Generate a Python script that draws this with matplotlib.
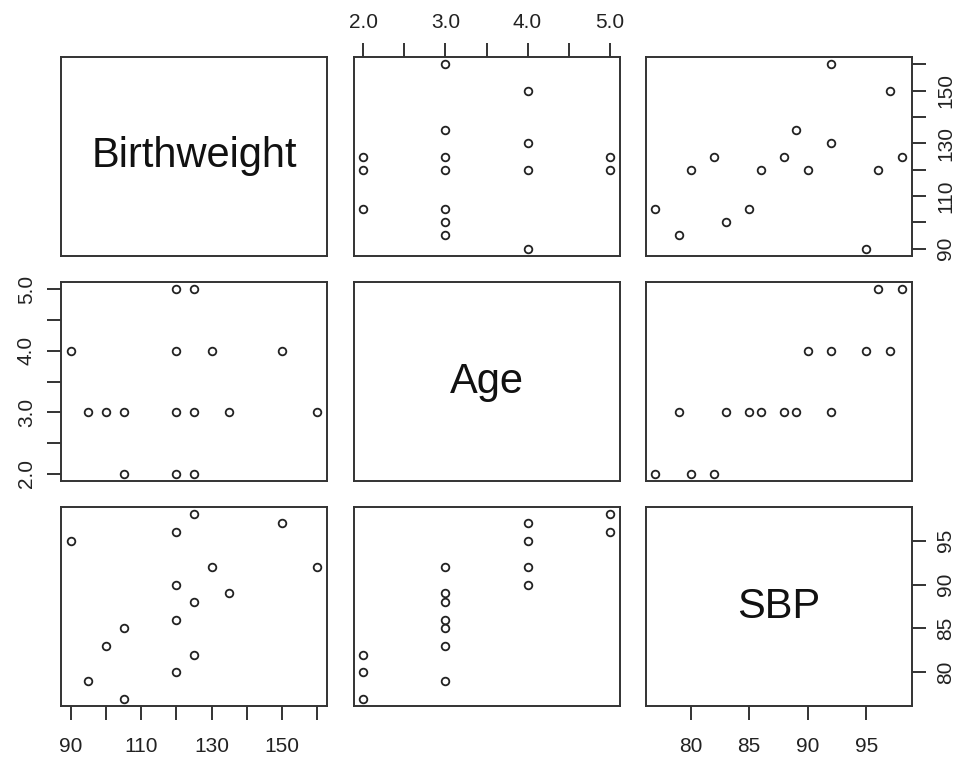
import matplotlib
matplotlib.use("Agg")
import matplotlib.pyplot as plt
import numpy as np

plt.rcParams['font.family'] = ['Liberation Sans', 'DejaVu Sans']

# Variables of the scatterplot matrix
names = ["Birthweight", "Age", "SBP"]
birthweight = [105, 95, 120, 125, 100, 105, 120, 125, 135, 120, 160, 130, 90, 120, 150, 125]
age = [2, 3, 2, 2, 3, 3, 3, 3, 3, 4, 3, 4, 4, 5, 4, 5]
sbp = [77, 79, 80, 82, 83, 85, 86, 88, 89, 90, 92, 92, 95, 96, 97, 98]

# Tick positions and which of them carry a label
bw_ticks = [90, 100, 110, 120, 130, 140, 150, 160]
bw_labels = ["90", "", "110", "", "130", "", "150", ""]
age_ticks = [2.0, 2.5, 3.0, 3.5, 4.0, 4.5, 5.0]
age_labels = ["2.0", "", "3.0", "", "4.0", "", "5.0"]
sbp_ticks = [80, 85, 90, 95]
sbp_labels = ["80", "85", "90", "95"]

data = [birthweight, age, sbp]
ticks = [bw_ticks, age_ticks, sbp_ticks]
labels = [bw_labels, age_labels, sbp_labels]

W, H = 963, 757
fig = plt.figure(figsize=(W / 100, H / 100), dpi=100)

col_left = [61, 353.5, 645.5]
row_top = [57, 282, 507]
pw, ph = 266, 199

frame_col = "#333333"
text_col = "#222222"


def lims(v):
    lo, hi = min(v), max(v)
    r = hi - lo
    return lo - 0.04 * r, hi + 0.04 * r


for i in range(3):          # row -> y variable
    for j in range(3):      # column -> x variable
        ax = fig.add_axes([col_left[j] / W, (H - row_top[i] - ph) / H, pw / W, ph / H])
        for s in ax.spines.values():
            s.set_linewidth(1.4)
            s.set_color(frame_col)
        ax.set_xticks([])
        ax.set_yticks([])
        ax.set_xlim(lims(data[j]))
        ax.set_ylim(lims(data[i]))
        if i == j:
            ax.text(0.5, 0.5, names[i], transform=ax.transAxes, ha="center",
                    va="center", fontsize=30, color="#111111")
        else:
            ax.plot(data[j], data[i], linestyle="none", marker="o", ms=5.5,
                    mfc="none", mec="#222222", mew=1.3)

        tick_kw = dict(length=10, width=1.4, color=frame_col,
                       labelsize=15, labelcolor=text_col)
        # outer axes alternate between sides, as in a classic pairs plot
        if i == 0 and j % 2 == 1:
            ax.set_xticks(ticks[j], labels[j])
            ax.tick_params(axis="x", top=True, bottom=False, labeltop=True,
                           labelbottom=False, pad=8, **tick_kw)
        if i == 2 and j % 2 == 0:
            ax.set_xticks(ticks[j], labels[j])
            ax.tick_params(axis="x", pad=12, **tick_kw)
        if j == 0 and i % 2 == 1:
            ax.set_yticks(ticks[i], labels[i])
            ax.tick_params(axis="y", pad=8, **tick_kw)
            for t in ax.get_yticklabels():
                t.set_rotation(90)
                t.set_va("center")
        if j == 2 and i % 2 == 0:
            ax.set_yticks(ticks[i], labels[i])
            ax.tick_params(axis="y", left=False, right=True, labelleft=False,
                           labelright=True, pad=8, **tick_kw)
            for t in ax.get_yticklabels():
                t.set_rotation(90)
                t.set_va("center")

fig.savefig("out.png", dpi=100, facecolor="white")
